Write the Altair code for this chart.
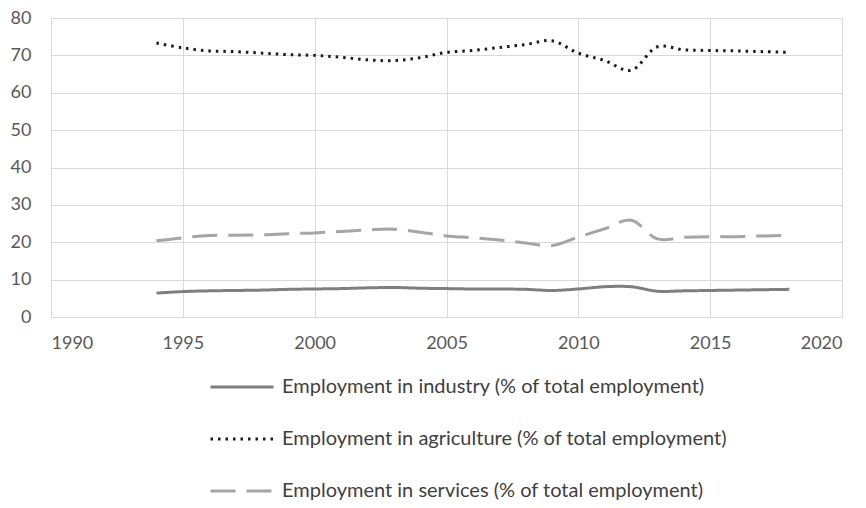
import altair as alt
import pandas as pd

years = list(range(1994, 2019))
industry = [6.4, 6.8, 7.0, 7.1, 7.2, 7.4, 7.5, 7.6, 7.8, 7.9, 7.7, 7.6, 7.5, 7.5, 7.4, 7.1, 7.5, 8.1, 8.1, 6.9, 7.0, 7.1, 7.2, 7.3, 7.4]
agriculture = [73.3, 72.0, 71.2, 71.0, 70.6, 70.2, 70.0, 69.5, 68.8, 68.6, 69.4, 70.8, 71.3, 72.1, 72.9, 73.9, 70.6, 68.6, 66.0, 72.3, 71.5, 71.3, 71.2, 71.0, 70.8]
services = [20.4, 21.2, 21.8, 21.9, 22.0, 22.3, 22.5, 22.9, 23.3, 23.5, 22.7, 21.7, 21.2, 20.6, 19.8, 19.1, 21.4, 23.6, 25.9, 20.9, 21.3, 21.5, 21.5, 21.7, 21.8]

names = [
    "Employment in industry (% of total employment)",
    "Employment in agriculture (% of total employment)",
    "Employment in services (% of total employment)",
]
x_ticks = [1990, 1995, 2000, 2005, 2010, 2015, 2020]
y_ticks = [0, 10, 20, 30, 40, 50, 60, 70, 80]

rows = []
for name, vals in zip(names, [industry, agriculture, services]):
    for y, v in zip(years, vals):
        rows.append({"year": y, "value": v, "series": name})
df = pd.DataFrame(rows)

FONT = "Lato"

chart = alt.Chart(df).mark_line(strokeWidth=3, interpolate="catmull-rom").encode(
    x=alt.X("year:Q", scale=alt.Scale(domain=[1990, 2020], nice=False, zero=False),
            axis=alt.Axis(values=x_ticks, format="d", title=None, ticks=False, domain=False,
                          labelFontSize=18, labelColor="#595959", labelPadding=17,
                          gridColor="#d9d9d9", labelFont=FONT)),
    y=alt.Y("value:Q", scale=alt.Scale(domain=[0, 80], nice=False),
            axis=alt.Axis(values=y_ticks, title=None, ticks=False, domain=False,
                          labelFontSize=18, labelColor="#595959", labelPadding=20,
                          gridColor="#d9d9d9", labelFont=FONT)),
    color=alt.Color("series:N", scale=alt.Scale(domain=names, range=["#7f7f7f", "#1a1a1a", "#a5a5a5"]),
                    legend=alt.Legend(title=None, orient="none", legendX=158, legendY=336,
                                      direction="vertical",
                                      symbolType="stroke", symbolSize=3969, symbolStrokeWidth=3,
                                      labelFontSize=20, labelColor="#404040", labelFont=FONT,
                                      labelOffset=7, rowPadding=9, labelLimit=700)),
    strokeDash=alt.StrokeDash("series:N", scale=alt.Scale(domain=names, range=[[1, 0], [2.5, 5], [25, 11]]),
                              legend=None),
    detail="series:N",
).properties(
    width=791, height=299, padding={"left": 51, "top": 18, "right": 24, "bottom": 191},
    autosize=alt.AutoSizeParams(type="none"),
).configure_view(stroke="#d9d9d9").configure(background="white")

chart.save("out.html", embed_options={"renderer": "svg", "actions": False})
